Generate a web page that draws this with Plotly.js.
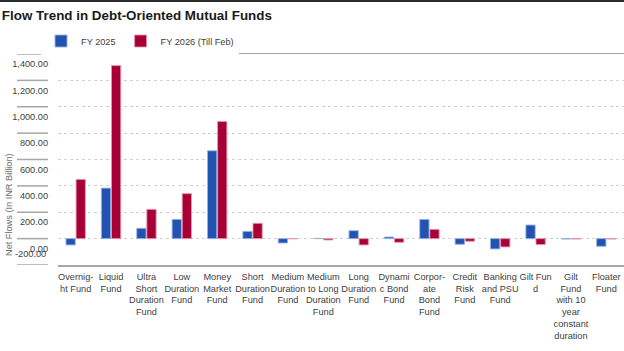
<!DOCTYPE html>
<html>
<head>
<meta charset="utf-8">
<script src="https://cdn.plot.ly/plotly-3.0.1.min.js"></script>
<style>
html,body{margin:0;padding:0;background:#fff;}
#chart{width:624px;height:351px;}
</style>
</head>
<body>
<div id="chart"></div>
<script>
// ---- data ----
const categories = [
  "Overnight Fund","Liquid Fund","Ultra Short Duration Fund","Low Duration Fund",
  "Money Market Fund","Short Duration Fund","Medium Duration Fund","Medium to Long Duration Fund",
  "Long Duration Fund","Dynamic Bond Fund","Corporate Bond Fund","Credit Risk Fund",
  "Banking and PSU Fund","Gilt Fund","Gilt Fund with 10 year constant duration","Floater Fund"
];
const tickLabels = [
  "Overnig-<br>ht Fund","Liquid<br>Fund","Ultra<br>Short<br>Duration<br>Fund","Low<br>Duration<br>Fund",
  "Money<br>Market<br>Fund","Short<br>Duration<br>Fund","Medium<br>Duration<br>Fund","Medium<br>to Long<br>Duration<br>Fund",
  "Long<br>Duration<br>Fund","Dynami<br>c Bond<br>Fund","Corpor-<br>ate<br>Bond<br>Fund","Credit<br>Risk<br>Fund",
  "Banking<br>and PSU<br>Fund","Gilt Fun<br>d","Gilt<br>Fund<br>with 10<br>year<br>constant<br>duration","Floater<br>Fund"
];
const fy2025 = [-48, 383, 78, 146, 666, 55, -33, 2, 60, 12, 145, -43, -78, 103, -3, -58];
const fy2026 = [449, 1312, 222, 341, 888, 116, -1, -10, -48, -28, 70, -20, -63, -45, -3, -3];
const seriesNames = ["FY 2025", "FY 2026 (Till Feb)"];
const yTicks = [-200, 0, 200, 400, 600, 800, 1000, 1200, 1400];

// ---- font detection: look for a narrow sans face ----
function measure(family, stretch) {
  const s = document.createElement("span");
  s.textContent = "Duration Fund Medium";
  s.style.cssText = "position:absolute;visibility:hidden;white-space:nowrap;font-size:100px;font-family:" +
    family + ";font-stretch:" + stretch + ";";
  document.body.appendChild(s);
  const w = s.getBoundingClientRect().width;
  s.remove();
  return w;
}
const baseW = measure("'Liberation Sans'", "normal");
const candidates = [
  {family: "'Liberation Sans Narrow', 'Liberation Sans'", stretch: "normal"},
  {family: "'Liberation Sans'", stretch: "condensed"},
  {family: "'Arial Narrow', 'Liberation Sans'", stretch: "normal"}
];
let FONT = "'Liberation Sans', Arial, sans-serif";
let STRETCH = "normal";
let scale = 0.84;
for (const c of candidates) {
  const w = measure(c.family, c.stretch);
  if (w < baseW * 0.9) { FONT = c.family + ", sans-serif"; STRETCH = c.stretch; scale = 1; break; }
}
if (STRETCH !== "normal") {
  const st = document.createElement("style");
  st.textContent = "svg text { font-stretch: " + STRETCH + " !important; }";
  document.head.appendChild(st);
}
const fs = v => Math.round(v * scale * 10) / 10;

// ---- styling ----
const BLUE = "#2253b0";
const RED = "#a70036";
const fmt = v => v.toLocaleString("en-US", {minimumFractionDigits: 2, maximumFractionDigits: 2});

const W = 624, H = 351, ML = 58, MR = 0, MT = 54, MB = 86;
const pw = W - ML - MR, ph = H - MT - MB;

const traces = [
  {type: "bar", name: seriesNames[0], x: categories, y: fy2025,
   marker: {color: BLUE, line: {color: "rgba(150,175,230,0.9)", width: 1}}},
  {type: "bar", name: seriesNames[1], x: categories, y: fy2026,
   marker: {color: RED, line: {color: "rgba(230,150,170,0.9)", width: 1}}}
];

const mainTicks = yTicks.filter(v => v >= 0);
const shapes = yTicks.map(v => ({
  type: "line", xref: "paper", yref: "y",
  x0: -(ML - 17) / pw, x1: -(ML - 48) / pw, y0: v, y1: v,
  line: {color: "#a6a6a6", width: 1.5}
}));
shapes.push({type: "line", xref: "paper", yref: "paper",
  x0: -ML / pw, x1: 1, y0: 1 + (MT - 1) / ph, y1: 1 + (MT - 1) / ph,
  line: {color: "#2b2b2b", width: 2}});

const tickFont = {family: FONT, size: fs(11), color: "#404040"};
const layout = {
  width: W, height: H,
  margin: {l: ML, r: MR, t: MT, b: MB, pad: 0},
  paper_bgcolor: "#fff", plot_bgcolor: "#fff",
  font: {family: FONT, size: fs(11), color: "#404040"},
  title: {text: "<b>Flow Trend in Debt-Oriented Mutual Funds</b>",
    font: {family: FONT, size: fs(16), color: "#1a1a1a"},
    xref: "container", yref: "container", x: 0.003, xanchor: "left", y: 1 - 15 / H, yanchor: "middle"},
  barmode: "group", bargap: 0.43, bargroupgap: 0.08,
  showlegend: true,
  legend: {orientation: "h", x: -0.03, xanchor: "left", y: 1 + 13 / ph, yanchor: "middle",
    font: {family: FONT, size: fs(11), color: "#404040"}, itemclick: false, traceorder: "normal"},
  xaxis: {type: "category", tickmode: "array", tickvals: categories, ticktext: tickLabels,
    showline: true, mirror: true, linecolor: "#a6a6a6", linewidth: 1.5,
    showgrid: false, ticks: "", tickangle: 0, automargin: false, ticklabelstandoff: 2, tickfont: tickFont},
  yaxis: {range: [-200, 1400], tickmode: "array", tickvals: mainTicks, ticktext: mainTicks.map(fmt),
    showgrid: true, gridcolor: "#d0d0d0", griddash: "dot", gridwidth: 1,
    zeroline: false, showline: false, ticks: "", automargin: false,
    ticklabelshift: 10, ticklabelstandoff: 9, tickfont: tickFont},
  shapes: shapes,
  annotations: [
    {xref: "paper", yref: "y", x: -(ML - 48) / pw, y: -200, xanchor: "right", yanchor: "middle",
     yshift: 11, showarrow: false, text: fmt(-200), font: tickFont},
    {xref: "paper", yref: "paper", x: -(ML - 9) / pw, y: (H - MB - 205) / ph,
     xanchor: "center", yanchor: "middle", textangle: -90, showarrow: false,
     text: "Net Flows (In INR Billion)", font: {family: FONT, size: fs(11), color: "#6e6e6e"}}
  ]
};

Plotly.newPlot("chart", traces, layout, {displayModeBar: false, staticPlot: true});
</script>
</body>
</html>
